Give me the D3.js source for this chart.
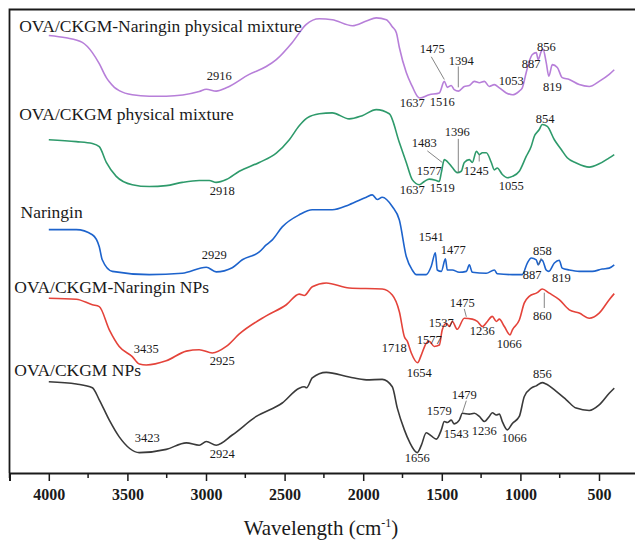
<!DOCTYPE html>
<html>
<head>
<meta charset="utf-8">
<script src="https://cdn.jsdelivr.net/npm/d3@7"></script>
<style>
  body { margin: 0; background: #fff; }
  text { font-family: "Liberation Serif", "Times New Roman", serif; fill: #1a1a1a; }
</style>
</head>
<body>
<div id="ftir-chart"></div>
<script>
// wavenumber (cm-1), transmittance (a.u., offset per spectrum)
const naringinMixData = [
  [4000, 94.4], [3891, 93.9], [3787, 92.9], [3723, 90.7], [3679, 88.3], [3634, 85.3], [3615, 84.4],
  [3583, 83.2], [3552, 82.5], [3469, 81.6], [3361, 81.3], [3253, 81.3], [3043, 82.3], [2998, 82.8],
  [2935, 82.4], [2871, 83.1], [2725, 86.0], [2617, 87.7], [2553, 89.2], [2451, 92.9], [2362, 96.8],
  [2279, 98.0], [2197, 97.8], [2069, 96.5], [1980, 97.5], [1917, 98.2], [1853, 97.8], [1815, 96.3],
  [1789, 95.0], [1770, 91.8], [1726, 86.4], [1688, 83.4], [1656, 81.3], [1640, 80.9], [1580, 81.6],
  [1516, 82.0], [1484, 84.5], [1465, 83.2], [1440, 83.6], [1421, 82.7], [1394, 82.4], [1357, 83.4],
  [1325, 83.6], [1293, 84.5], [1261, 84.2], [1229, 84.5], [1198, 83.4], [1166, 83.8], [1134, 83.1],
  [1090, 82.0], [1051, 81.6], [1007, 82.4], [988, 83.1], [963, 86.4], [944, 88.8], [924, 90.3],
  [899, 90.7], [887, 89.2], [867, 91.0], [856, 91.4], [836, 88.6], [819, 85.6], [797, 88.1],
  [765, 87.5], [734, 85.3], [689, 84.9], [626, 83.8], [562, 83.4], [499, 84.5], [435, 86.0], [403, 87.0]
];
const ovaMixData = [
  [4000, 71.9], [3825, 71.5], [3723, 71.1], [3679, 70.4], [3634, 67.0], [3571, 64.0], [3469, 62.2],
  [3361, 61.8], [3253, 62.0], [3151, 62.7], [3043, 63.1], [2979, 63.1], [2935, 62.7], [2871, 63.3],
  [2788, 65.1], [2661, 67.0], [2553, 69.0], [2470, 71.9], [2407, 74.9], [2356, 76.6], [2279, 77.5],
  [2197, 77.7], [2089, 76.4], [2006, 77.1], [1917, 78.4], [1834, 77.5], [1770, 71.3], [1726, 67.0],
  [1688, 63.3], [1643, 62.2], [1611, 62.9], [1580, 63.4], [1535, 63.1], [1516, 62.9], [1503, 64.8],
  [1484, 67.6], [1465, 67.2], [1433, 65.9], [1402, 64.8], [1376, 65.1], [1357, 67.0], [1325, 67.6],
  [1306, 67.0], [1280, 69.4], [1261, 68.7], [1242, 69.1], [1217, 69.1], [1185, 67.0], [1166, 65.4],
  [1147, 65.8], [1115, 64.4], [1083, 63.7], [1051, 64.0], [1007, 65.1], [963, 68.3], [931, 70.5],
  [912, 72.6], [880, 74.1], [861, 75.2], [829, 74.8], [784, 71.9], [740, 69.8], [702, 68.0],
  [645, 66.9], [562, 66.0], [499, 66.7], [435, 68.0], [403, 68.7]
];
const naringinData = [
  [4000, 52.5], [3825, 52.5], [3723, 51.4], [3679, 48.8], [3660, 46.0], [3596, 43.5], [3361, 42.8],
  [3151, 43.1], [2998, 44.4], [2935, 43.4], [2833, 44.3], [2769, 46.0], [2661, 47.7], [2617, 49.2],
  [2578, 50.3], [2515, 53.1], [2407, 55.7], [2324, 56.8], [2197, 56.8], [2089, 57.9], [1980, 59.5],
  [1942, 60.0], [1910, 59.0], [1879, 59.5], [1815, 57.5], [1770, 54.6], [1726, 46.7], [1688, 43.8],
  [1662, 42.8], [1599, 42.8], [1567, 44.6], [1541, 47.5], [1529, 43.8], [1503, 43.5], [1477, 46.2],
  [1465, 43.8], [1433, 43.8], [1389, 43.3], [1344, 43.5], [1325, 44.9], [1306, 43.3], [1217, 43.1],
  [1166, 43.8], [1147, 43.0], [1051, 42.8], [988, 42.8], [956, 45.3], [931, 46.4], [899, 46.0],
  [887, 44.9], [867, 46.0], [858, 45.8], [836, 43.8], [819, 43.5], [784, 45.3], [753, 45.9],
  [734, 44.2], [689, 43.8], [626, 43.5], [543, 43.5], [480, 44.0], [435, 44.2], [403, 44.9]
];
const npsNaringinData = [
  [4000, 37.7], [3825, 37.5], [3723, 36.3], [3679, 35.9], [3615, 30.9], [3552, 27.3], [3469, 25.1],
  [3424, 23.5], [3380, 23.3], [3253, 24.2], [3125, 26.3], [3043, 26.6], [2960, 25.9], [2871, 27.3],
  [2788, 30.0], [2617, 33.9], [2489, 36.3], [2407, 38.6], [2375, 38.3], [2324, 40.2], [2235, 41.0],
  [2089, 39.9], [1879, 39.7], [1815, 38.4], [1770, 34.8], [1738, 29.4], [1719, 28.4], [1694, 25.9],
  [1654, 23.8], [1630, 25.5], [1599, 28.0], [1580, 28.4], [1548, 27.3], [1516, 27.6], [1497, 30.9],
  [1471, 32.3], [1452, 31.6], [1433, 32.7], [1402, 31.0], [1357, 33.4], [1306, 33.2], [1274, 32.7],
  [1242, 31.6], [1210, 32.7], [1179, 33.8], [1153, 32.7], [1134, 33.2], [1102, 31.6], [1066, 29.8],
  [1051, 30.9], [1007, 33.0], [975, 36.7], [944, 38.1], [893, 38.9], [861, 39.7], [816, 38.8],
  [753, 37.4], [689, 35.2], [626, 34.5], [562, 33.4], [499, 34.5], [435, 37.4], [403, 38.7]
];
const npsData = [
  [4000, 19.7], [3825, 19.2], [3723, 18.4], [3679, 15.8], [3615, 11.4], [3552, 7.8], [3424, 4.4],
  [3253, 5.1], [3125, 6.5], [3043, 6.0], [2998, 6.8], [2935, 6.0], [2833, 8.2], [2680, 12.2],
  [2515, 15.1], [2407, 18.3], [2375, 18.6], [2360, 18.4], [2324, 20.5], [2235, 21.7], [2089, 20.7],
  [1980, 20.1], [1879, 20.2], [1815, 18.6], [1783, 14.0], [1738, 9.3], [1707, 6.8], [1656, 4.4],
  [1630, 6.0], [1599, 8.7], [1567, 8.0], [1535, 7.3], [1503, 9.3], [1484, 11.1], [1465, 10.9],
  [1440, 11.4], [1421, 10.6], [1389, 11.4], [1369, 12.9], [1325, 12.7], [1293, 12.9], [1261, 12.2],
  [1229, 11.1], [1198, 12.2], [1179, 13.0], [1153, 12.5], [1134, 12.7], [1115, 11.1], [1083, 9.3],
  [1051, 10.7], [1007, 12.2], [975, 16.5], [931, 18.3], [899, 18.8], [861, 19.5], [836, 19.2],
  [772, 17.6], [708, 15.8], [645, 14.0], [562, 13.5], [499, 14.7], [435, 17.2], [403, 18.3]
];

const seriesNames = ["OVA/CKGM-Naringin physical mixture", "OVA/CKGM physical mixture", "Naringin",
  "OVA/CKGM-Naringin NPs", "OVA/CKGM NPs"];
// name anchor: [wavenumber, a.u.]
const nameAnchors = [[4188, 95.2], [4188, 76.2], [4180, 55.1], [4219, 38.9], [4219, 21.0]];

// peak labels: [text, wavenumber, a.u.]
const peakLabels = [
  ["2916", 2915, 84.7], ["1475", 1561, 90.7], ["1394", 1376, 88.1], ["1637", 1688, 79.0],
  ["1516", 1497, 79.2], ["1053", 1058, 83.8], ["887", 931, 87.3], ["856", 835, 91.1], ["819", 797, 82.5],
  ["2918", 2896, 60.0], ["1483", 1611, 70.4], ["1396", 1402, 72.6], ["1577", 1580, 64.4],
  ["1245", 1281, 64.4], ["1637", 1688, 60.3], ["1519", 1497, 60.7], ["1055", 1058, 61.1], ["854", 842, 75.6],
  ["2929", 2947, 46.2], ["1541", 1567, 50.1], ["1477", 1427, 47.3], ["858", 861, 47.1],
  ["887", 925, 41.9], ["819", 740, 41.3],
  ["3435", 3380, 25.9], ["2925", 2896, 23.3], ["1475", 1370, 35.9], ["1537", 1503, 31.5],
  ["1577", 1580, 27.9], ["1718", 1802, 26.1], ["1654", 1643, 20.7], ["1236", 1243, 29.8],
  ["1066", 1071, 27.0], ["860", 861, 33.0],
  ["3423", 3373, 6.7], ["2924", 2896, 3.2], ["1656", 1656, 2.4], ["1579", 1516, 12.5],
  ["1479", 1357, 16.0], ["1543", 1408, 7.6], ["1236", 1230, 8.2], ["1066", 1039, 6.7], ["856", 861, 20.5]
];
// leader lines: [w1, v1, w2, v2]
const leaders = [
  [1567, 89.8, 1484, 84.9], [1395, 87.7, 1395, 83.2],
  [1592, 69.5, 1497, 67.0], [1395, 72.1, 1395, 64.8], [1262, 68.7, 1262, 67.2],
  [867, 46.4, 886, 44.9],
  [1357, 35.4, 1344, 33.7], [848, 38.9, 848, 35.6],
  [1344, 15.6, 1369, 13.0]
];

const majorTicks = [4000, 3500, 3000, 2500, 2000, 1500, 1000, 500];
const minorTicks = [4250, 3750, 3250, 2750, 2250, 1750, 1250, 750];

const allSeries = [naringinMixData, ovaMixData, naringinData, npsNaringinData, npsData];
const colors = ["#b77fd9", "#2e9a6b", "#1d63cc", "#e4433a", "#3a3a3a"];

let svgDimensions = [635, 547];
let svg = d3.select('#ftir-chart')
  .append('svg')
    .attr('width', svgDimensions[0])
    .attr('height', svgDimensions[1]);

const plotTop = 9.5, plotBottom = 473, plotLeft = 9.5;

let x = d3.scaleLinear()
  .domain([4250, 250])
  .range([plotLeft, plotLeft + 4000 * 0.1572]);
let y = d3.scaleLinear()
  .domain([0, 100])
  .range([plotBottom, plotTop]);

let line = d3.line()
  .x(d => x(d[0]))
  .y(d => y(d[1]))
  .curve(d3.curveMonotoneX);

svg.selectAll('path.spectrum')
  .data(allSeries)
  .enter()
  .append('path')
    .attr('class', 'spectrum')
    .attr('d', d => line(d))
    .attr('fill', 'none')
    .attr('stroke', (d, i) => colors[i])
    .attr('stroke-width', 1.6)
    .attr('stroke-linejoin', 'round');

svg.selectAll('line.leader')
  .data(leaders)
  .enter()
  .append('line')
    .attr('class', 'leader')
    .attr('x1', d => x(d[0]))
    .attr('y1', d => y(d[1]))
    .attr('x2', d => x(d[2]))
    .attr('y2', d => y(d[3]))
    .attr('stroke', '#666')
    .attr('stroke-width', 0.8);

svg.selectAll('text.peak')
  .data(peakLabels)
  .enter()
  .append('text')
    .attr('class', 'peak')
    .attr('x', d => x(d[1]))
    .attr('y', d => y(d[2]))
    .attr('text-anchor', 'middle')
    .style('font-size', '12.5px')
    .text(d => d[0]);

svg.selectAll('text.name')
  .data(seriesNames)
  .enter()
  .append('text')
    .attr('class', 'name')
    .attr('x', (d, i) => x(nameAnchors[i][0]))
    .attr('y', (d, i) => y(nameAnchors[i][1]))
    .style('font-size', '17.5px')
    .text(d => d);

// frame
svg.append('path')
  .attr('d', `M${x(250)},${plotTop}H${plotLeft}V${plotBottom}`)
  .attr('fill', 'none')
  .attr('stroke', '#1a1a1a')
  .attr('stroke-width', 1.8);

let xAxis = svg.append('g')
  .attr('transform', `translate(0,${plotBottom})`)
  .call(d3.axisBottom(x).tickValues(majorTicks).tickSize(8).tickPadding(8).tickFormat(d3.format('d')));
xAxis.select('.domain').attr('stroke', '#1a1a1a').attr('stroke-width', 2);
xAxis.selectAll('.tick line').attr('stroke', '#1a1a1a').attr('stroke-width', 1.5);
xAxis.selectAll('.tick text')
  .style('font-family', '"Liberation Serif", "Times New Roman", serif')
  .style('font-size', '16px')
  .style('font-weight', 'bold')
  .attr('fill', '#1a1a1a');

svg.append('g')
  .attr('transform', `translate(0,${plotBottom})`)
  .selectAll('line')
  .data(minorTicks)
  .enter()
  .append('line')
    .attr('x1', d => x(d))
    .attr('x2', d => x(d))
    .attr('y1', 0)
    .attr('y2', 5)
    .attr('stroke', '#1a1a1a')
    .attr('stroke-width', 1.5);

let title = svg.append('text')
  .attr('x', 321)
  .attr('y', 535)
  .attr('text-anchor', 'middle')
  .style('font-size', '21px')
  .text('Wavelength (cm');
title.append('tspan')
  .attr('dy', -8)
  .style('font-size', '12px')
  .text('-1');
title.append('tspan')
  .attr('dy', 8)
  .text(')');
</script>
</body>
</html>
